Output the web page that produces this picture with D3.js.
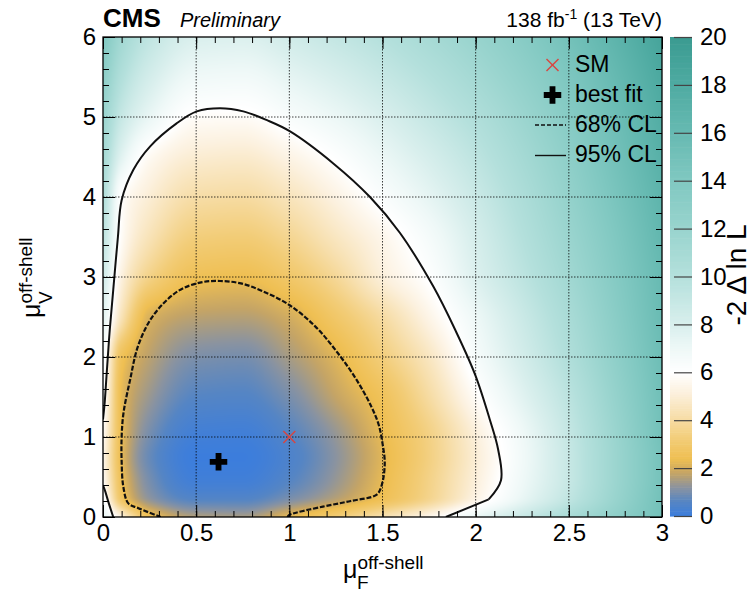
<!DOCTYPE html>
<html><head><meta charset="utf-8">
<script src="https://cdn.jsdelivr.net/npm/d3@7"></script>
<style>
body{margin:0;background:#fff}
text{font-family:"Liberation Sans",Arial,Helvetica,sans-serif;fill:#000}
</style>
</head><body>
<svg id="chart" width="751" height="594"></svg>
<script>
// Scan grid of -2ΔlnL (rows: mu_V, columns: mu_F)
const muF = [0, 0.1, 0.25, 0.5, 0.75, 1.0, 1.25, 1.5, 1.75, 2.0, 2.25, 2.5, 2.75, 3.0];
const muV = [0, 0.25, 0.5, 0.75, 1.0, 1.5, 2.0, 2.5, 3.0, 3.5, 4.0, 4.5, 5.0, 5.5, 6.0];
const nll = [
  [7.5, 5.2, 2.6, 1.6, 1.5, 2.3, 3.2, 4.3, 5.5, 7.2, 8.9, 10.8, 12.8, 15.0],
  [6.4, 2.7, 1.2, 0.5, 0.5, 0.95, 1.6, 2.45, 3.6, 5.3, 7.2, 9.3, 12.0, 15.0],
  [5.7, 2.45, 0.95, 0.12, 0.12, 0.55, 1.3, 2.28, 3.5, 5.1, 6.9, 9.0, 11.8, 14.8],
  [5.5, 2.3, 0.8, 0.03, 0.03, 0.42, 1.2, 2.2, 3.4, 5.0, 6.8, 9.0, 11.8, 14.8],
  [5.7, 2.35, 0.95, 0.15, 0.12, 0.55, 1.3, 2.3, 3.45, 5.1, 6.9, 9.1, 11.9, 15.0],
  [6.3, 2.3, 1.35, 0.6, 0.55, 1.0, 1.8, 2.6, 4.0, 5.8, 7.6, 9.6, 12.3, 15.2],
  [6.6, 2.6, 1.7, 1.05, 0.98, 1.5, 2.2, 3.3, 4.6, 6.5, 8.3, 10.3, 12.8, 15.5],
  [7.6, 4.4, 2.1, 1.7, 1.65, 2.0, 2.9, 4.0, 5.4, 7.0, 8.8, 10.8, 13.2, 15.8],
  [8.6, 5.2, 3.5, 2.5, 2.4, 2.9, 3.8, 5.1, 6.1, 7.8, 9.5, 11.4, 13.6, 16.0],
  [9.5, 5.8, 4.4, 3.3, 3.2, 3.7, 4.6, 5.5, 6.6, 8.2, 10.0, 11.9, 14.0, 16.4],
  [10.4, 6.0, 5.0, 4.1, 4.0, 4.5, 5.3, 6.3, 7.4, 8.8, 10.5, 12.4, 14.5, 16.8],
  [11.2, 7.6, 5.7, 4.95, 4.85, 5.35, 6.1, 7.1, 8.2, 9.5, 11.1, 12.9, 15.0, 17.3],
  [12.0, 9.0, 7.2, 5.85, 5.8, 6.4, 7.1, 8.0, 9.1, 10.3, 11.8, 13.5, 15.5, 17.8],
  [13.0, 10.2, 8.3, 6.9, 6.8, 7.4, 8.1, 9.0, 10.0, 11.2, 12.6, 14.2, 16.1, 18.3],
  [14.0, 11.4, 9.4, 8.0, 7.9, 8.5, 9.2, 10.0, 11.0, 12.1, 13.4, 15.0, 16.8, 18.9]
];

// Confidence-level contours [mu_F, mu_V]
const cl68 = [
  [0.31, 0.0], [0.19, 0.11], [0.136, 0.17], [0.109, 0.38], [0.10, 0.70], [0.10, 1.0],
  [0.11, 1.3], [0.145, 1.71], [0.19, 2.15], [0.27, 2.52], [0.40, 2.82], [0.52, 2.93], [0.628, 2.95],
  [0.74, 2.92], [0.86, 2.82], [1.0, 2.65], [1.14, 2.38], [1.26, 2.05], [1.362, 1.71], [1.44, 1.38],
  [1.48, 1.15], [1.5, 0.92], [1.512, 0.67], [1.496, 0.40], [1.469, 0.28], [1.33, 0.2], [1.18, 0.13],
  [1.0, 0.025], [0.99, 0.0]
];
const cl95 = [
  [0.0, 1.22], [0.008, 1.4], [0.02, 1.8], [0.035, 2.3], [0.055, 2.84], [0.08, 3.5], [0.10, 3.96],
  [0.163, 4.34], [0.252, 4.63], [0.395, 4.92], [0.503, 5.07], [0.628, 5.11], [0.753, 5.07],
  [0.88, 4.96], [1.004, 4.82], [1.236, 4.42], [1.433, 4.0], [1.594, 3.55], [1.773, 2.88], [1.89, 2.34],
  [1.997, 1.78], [2.077, 1.21], [2.12, 0.85], [2.136, 0.46], [2.07, 0.22]
];
const cl95foot = [[2.07, 0.22], [1.84, 0.0]];
const cl95corner = [[0.0, 0.40], [0.012, 0.32], [0.03, 0.18], [0.055, 0.0]];

const bestFit = [0.62, 0.69];
const smPoint = [1.0, 1.0];

const xTicks = [0, 0.5, 1, 1.5, 2, 2.5, 3];
const yTicks = [0, 1, 2, 3, 4, 5, 6];
const zTicks = [0, 2, 4, 6, 8, 10, 12, 14, 16, 18, 20];

// palette: blue at minimum, orange near 68%, white at 95%, teal beyond
const palLevels = [0, 0.6, 1.2, 1.8, 2.4, 3.2, 4.2, 5.2, 6.0, 7.0, 8.0, 10, 12, 14, 16, 18, 20];
const palColors = ["#3b7ddd","#5585c4","#8a93a0","#c4a466","#efbf52","#f2cc76","#f7dfad","#fcf1df",
  "#ffffff","#eef8f7","#d9efed","#b4e0dc","#99d4ce","#80c8c1","#67bab2","#4faba2","#3a9b91"];

const W = 751, H = 594;
const L = 103, R = 662, T = 37, B = 517;
const svg = d3.select("#chart");
svg.append("rect").attr("width", W).attr("height", H).attr("fill", "#fff");

const x = d3.scaleLinear().domain([0, 3]).range([L, R]);
const y = d3.scaleLinear().domain([0, 6]).range([B, T]);
const color = d3.scaleLinear().domain(palLevels).range(palColors).clamp(true);

// monotone cubic (PCHIP) slopes for smooth rendering of the scan grid
function pchipSlopes(xs, ys) {
  const n = xs.length, h = [], d = [], m = new Array(n);
  for (let i = 0; i < n - 1; i++) { h[i] = xs[i+1] - xs[i]; d[i] = (ys[i+1] - ys[i]) / h[i]; }
  m[0] = d[0]; m[n-1] = d[n-2];
  for (let i = 1; i < n - 1; i++) {
    if (d[i-1] * d[i] <= 0) m[i] = 0;
    else {
      const w1 = 2*h[i] + h[i-1], w2 = h[i] + 2*h[i-1];
      m[i] = (w1 + w2) / (w1 / d[i-1] + w2 / d[i]);
    }
  }
  return m;
}
function pchipEval(xs, ys, m, t) {
  let i = d3.bisectRight(xs, t) - 1;
  i = Math.max(0, Math.min(xs.length - 2, i));
  const h = xs[i+1] - xs[i], s = (t - xs[i]) / h;
  const s2 = s*s, s3 = s2*s;
  return (2*s3 - 3*s2 + 1)*ys[i] + (s3 - 2*s2 + s)*h*m[i] + (-2*s3 + 3*s2)*ys[i+1] + (s3 - s2)*h*m[i+1];
}

// heat map drawn into a canvas, placed as an image inside the frame
const pw = R - L, ph = B - T;
const cv = document.createElement("canvas");
cv.width = pw; cv.height = ph;
const ctx = cv.getContext("2d");
const img = ctx.createImageData(pw, ph);
const rowSlopes = nll.map(r => pchipSlopes(muF, r));
for (let px = 0; px < pw; px++) {
  const fx = x.invert(L + px + 0.5);
  const col = nll.map((r, j) => pchipEval(muF, r, rowSlopes[j], fx));
  const cm = pchipSlopes(muV, col);
  for (let py = 0; py < ph; py++) {
    const fy = y.invert(T + py + 0.5);
    const v = Math.max(0, pchipEval(muV, col, cm, fy));
    const c = d3.rgb(color(v));
    const k = 4 * (py * pw + px);
    img.data[k] = c.r; img.data[k+1] = c.g; img.data[k+2] = c.b; img.data[k+3] = 255;
  }
}
ctx.putImageData(img, 0, 0);
svg.append("image").attr("x", L).attr("y", T).attr("width", pw).attr("height", ph)
  .attr("preserveAspectRatio", "none").attr("href", cv.toDataURL());

svg.append("clipPath").attr("id", "frame").append("rect")
  .attr("x", L).attr("y", T).attr("width", pw).attr("height", ph);

// dotted grid
const grid = svg.append("g").attr("stroke", "#000").attr("stroke-width", 1)
  .attr("stroke-dasharray", "1.5,1.5").attr("opacity", 0.75);
grid.selectAll("line.gx").data(xTicks.slice(1, -1)).join("line")
  .attr("x1", d => x(d)).attr("x2", d => x(d)).attr("y1", T).attr("y2", B);
grid.selectAll("line.gy").data(yTicks.slice(1, -1)).join("line")
  .attr("y1", d => y(d)).attr("y2", d => y(d)).attr("x1", L).attr("x2", R);

// contours
const smooth = d3.line().curve(d3.curveCatmullRom.alpha(0.5)).x(d => x(d[0])).y(d => y(d[1]));
const straight = d3.line().x(d => x(d[0])).y(d => y(d[1]));
const cg = svg.append("g").attr("clip-path", "url(#frame)").attr("fill", "none").attr("stroke", "#111")
  .attr("stroke-linejoin", "round");
cg.append("path").attr("d", smooth(cl95)).attr("stroke-width", 2);
cg.append("path").attr("d", straight(cl95foot)).attr("stroke-width", 2);
cg.append("path").attr("d", smooth(cl95corner)).attr("stroke-width", 2);
cg.append("path").attr("d", smooth(cl68)).attr("stroke-width", 2.2).attr("stroke-dasharray", "5,1.8");

// SM marker
const sm = svg.append("g").attr("stroke", "#d9453f").attr("stroke-width", 1.4);
function cross(g, cx, cy, r) {
  g.append("line").attr("x1", cx - r).attr("y1", cy - r).attr("x2", cx + r).attr("y2", cy + r);
  g.append("line").attr("x1", cx - r).attr("y1", cy + r).attr("x2", cx + r).attr("y2", cy - r);
}
cross(sm, x(smPoint[0]), y(smPoint[1]), 6);
// best fit marker
const plus = d3.symbol().type(d3.symbolCross).size(170);
svg.append("path").attr("d", plus()).attr("fill", "#000")
  .attr("transform", `translate(${x(bestFit[0])},${y(bestFit[1])})`);

// axes with ticks drawn inward on all four sides
const fmt = d3.format("~g");
const minorX = d3.range(0, 30.001, 1).map(d => d / 10);
const minorY = d3.range(0, 30.001, 1).map(d => d / 5);
function axisStyle(g) { g.select(".domain").remove(); g.selectAll("line").attr("stroke", "#000"); }
svg.append("g").attr("transform", `translate(0,${B})`)
  .call(d3.axisBottom(x).tickValues(minorX).tickSize(-6).tickFormat("")).call(axisStyle);
svg.append("g").attr("transform", `translate(0,${B})`)
  .call(d3.axisBottom(x).tickValues(xTicks).tickSize(-12).tickPadding(7).tickFormat(fmt))
  .call(axisStyle).call(g => g.selectAll("text").attr("font-size", 24).attr("font-family", null));
svg.append("g").attr("transform", `translate(0,${T})`)
  .call(d3.axisTop(x).tickValues(minorX).tickSize(-6).tickFormat("")).call(axisStyle);
svg.append("g").attr("transform", `translate(0,${T})`)
  .call(d3.axisTop(x).tickValues(xTicks).tickSize(-12).tickFormat("")).call(axisStyle);
svg.append("g").attr("transform", `translate(${L},0)`)
  .call(d3.axisLeft(y).tickValues(minorY).tickSize(-6).tickFormat("")).call(axisStyle);
svg.append("g").attr("transform", `translate(${L},0)`)
  .call(d3.axisLeft(y).tickValues(yTicks).tickSize(-12).tickPadding(7).tickFormat(fmt))
  .call(axisStyle).call(g => g.selectAll("text").attr("font-size", 24).attr("font-family", null));
svg.append("g").attr("transform", `translate(${R},0)`)
  .call(d3.axisRight(y).tickValues(minorY).tickSize(-6).tickFormat("")).call(axisStyle);
svg.append("g").attr("transform", `translate(${R},0)`)
  .call(d3.axisRight(y).tickValues(yTicks).tickSize(-12).tickFormat("")).call(axisStyle);

svg.append("rect").attr("x", L).attr("y", T).attr("width", pw).attr("height", ph)
  .attr("fill", "none").attr("stroke", "#000").attr("stroke-width", 1.3);

// colour bar
const zx0 = 670, zx1 = 692;
const z = d3.scaleLinear().domain([0, 20]).range([516, 37]);
const zSteps = d3.range(0, 200).map(i => i * 0.1);
svg.append("g").selectAll("rect").data(zSteps).join("rect")
  .attr("x", zx0).attr("width", zx1 - zx0)
  .attr("y", d => z(d + 0.1)).attr("height", d => z(d) - z(d + 0.1) + 0.6)
  .attr("fill", d => color(d + 0.05));
svg.append("g").attr("transform", `translate(${zx1},0)`)
  .call(d3.axisRight(z).tickValues(zTicks).tickSize(-18).tickPadding(8).tickFormat(fmt))
  .call(g => { g.select(".domain").remove(); g.selectAll("line").attr("stroke", "#444").attr("stroke-width", 1.2); })
  .call(g => g.selectAll("text").attr("font-size", 24).attr("font-family", null));
svg.append("text").attr("transform", "translate(746,275) rotate(-90)")
  .attr("text-anchor", "middle").attr("font-size", 28).text("-2 Δ ln L");

// legend
const lg = svg.append("g");
cross(lg.append("g").attr("stroke", "#d9453f").attr("stroke-width", 1.4), 552.5, 65, 6);
lg.append("path").attr("d", plus()).attr("fill", "#000").attr("transform", "translate(552.5,95)");
lg.append("line").attr("x1", 535).attr("x2", 566).attr("y1", 125).attr("y2", 125)
  .attr("stroke", "#111").attr("stroke-width", 1.4).attr("stroke-dasharray", "4,2");
lg.append("line").attr("x1", 535).attr("x2", 566).attr("y1", 155.5).attr("y2", 155.5)
  .attr("stroke", "#111").attr("stroke-width", 1.4);
[["SM", 71.5], ["best fit", 101.5], ["68% CL", 132], ["95% CL", 162]].forEach(([t, yy]) =>
  lg.append("text").attr("x", 575).attr("y", yy).attr("font-size", 23).text(t));

// header
svg.append("text").attr("x", 103).attr("y", 27).attr("font-size", 26).attr("font-weight", "bold").text("CMS");
svg.append("text").attr("x", 180).attr("y", 26.5).attr("font-size", 20).attr("font-style", "italic").text("Preliminary");
const lumi = svg.append("text").attr("x", 662).attr("y", 26.5).attr("text-anchor", "end").attr("font-size", 21);
lumi.append("tspan").text("138 fb");
lumi.append("tspan").attr("font-size", 14).attr("dy", -8).text("-1");
lumi.append("tspan").attr("dy", 8).text(" (13 TeV)");

// axis titles
const xt = svg.append("text").attr("x", 343).attr("y", 578);
xt.append("tspan").attr("font-size", 25).text("μ");
xt.append("tspan").attr("font-size", 19).attr("dy", -9).text("off-shell");
xt.append("tspan").attr("font-size", 19).attr("x", 357).attr("dy", 20).text("F");

const yt = svg.append("text").attr("transform", "translate(40,318) rotate(-90)");
yt.append("tspan").attr("font-size", 25).text("μ");
yt.append("tspan").attr("font-size", 19).attr("dy", -8).text("off-shell");
yt.append("tspan").attr("font-size", 19).attr("x", 14).attr("dy", 20).text("V");
</script>
</body></html>
